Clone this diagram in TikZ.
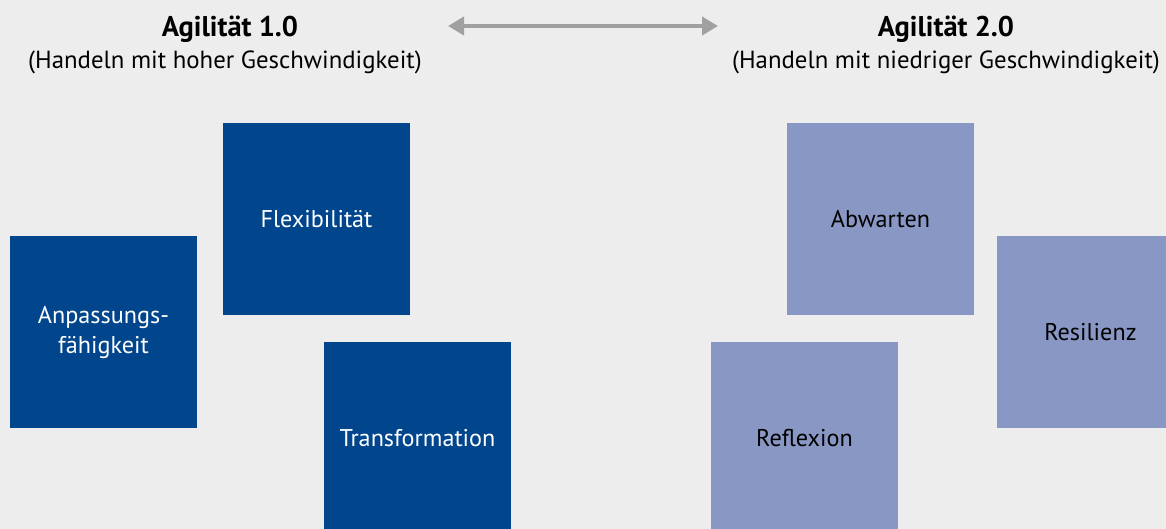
\documentclass[tikz,border=0pt]{standalone}
\usepackage{fontspec}
\setmainfont{PT Sans}
\usepackage{xcolor}
\usetikzlibrary{arrows.meta}

\definecolor{paper}{RGB}{237,237,237}
\definecolor{fastblue}{RGB}{1,69,140}
\definecolor{slowblue}{RGB}{137,151,197}
\definecolor{arrowgray}{RGB}{160,160,160}

\begin{document}
\begin{tikzpicture}[x=1pt, y=-1pt,
    tile/.style={minimum width=187pt, minimum height=192pt, inner sep=0pt,
      align=center, font=\fontsize{24.2}{30}\selectfont},
    fasttile/.style={tile, fill=fastblue, text=white},
    slowtile/.style={tile, fill=slowblue, text=black},
    heading/.style={anchor=base, font=\fontsize{28.5}{34}\selectfont\bfseries},
    subheading/.style={anchor=base, font=\fontsize{24.8}{30}\selectfont}]
    \fill[paper] (0, 0) rectangle (1166, 529);
    \useasboundingbox (0, 0) rectangle (1166, 529);
    \clip (0, 0) rectangle (1166, 529);

    \node[heading] (agile1) at (230, 37) {Agilität 1.0};
    \node[subheading] (agile1sub) at (225, 69) {(Handeln mit hoher Geschwindigkeit)};
    \node[heading] (agile2) at (946, 37) {Agilität 2.0};
    \node[subheading] (agile2sub) at (946, 69) {(Handeln mit niedriger Geschwindigkeit)};

    \coordinate (fast) at (448, 26);
    \coordinate (slow) at (718, 26);
    \draw[arrowgray, line width=4.5pt,
      {Triangle[length=16pt, width=18pt]}-{Triangle[length=16pt, width=18pt]}] (fast) -- (slow);

    % fast side
    \node[fasttile] (adapt) at (103.5, 332) {Anpassungs-\\fähigkeit};
    \node[fasttile] (flex) at (316.5, 219) {Flexibilität};
    \node[fasttile] (transform) at (417.5, 438) {Transformation};

    % slow side
    \node[slowtile] (wait) at (880.5, 219) {Abwarten};
    \node[slowtile] (resil) at (1090.5, 332) {Resilienz};
    \node[slowtile] (reflect) at (804.5, 438) {Reflexion};
  \end{tikzpicture}
\end{document}
